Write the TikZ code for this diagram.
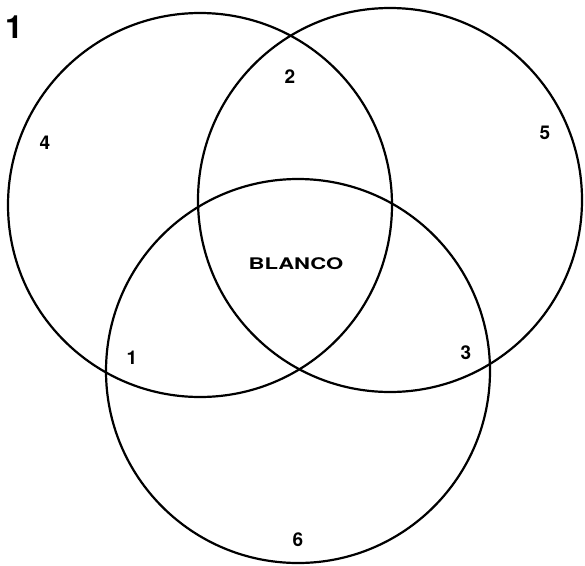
\documentclass[tikz,border=0pt]{standalone}
\usepackage{fontspec}
\setmainfont{TeX Gyre Heros}
\usepackage{graphicx}
\usepackage{tikz}
\usetikzlibrary{positioning}

\begin{document}
\begin{tikzpicture}[
      x=1pt, y=-1pt,
      every node/.style={font=\fontsize{19}{21}\selectfont\bfseries},
      ring/.style={draw, circle, line width=2.2pt, minimum size=384pt, inner sep=0pt},
      region/.style={inner sep=0pt},
  ]
    \useasboundingbox (0,0) rectangle (585,565);

    \node[ring] (setl) at (200,205) {};
    \node[ring] (setr) at (390,200) {};
    \node[ring] (setb) at (298,371) {};

    \node[region, font=\fontsize{32}{34}\selectfont\bfseries] (fig) at (14,27) {1};

    \node[region] (rfour) at (45,143) {4};
    \node[region] (rtwo) at (290,77) {2};
    \node[region] (rfive) at (545,133) {5};
    \node[region, font=\fontsize{16}{18}\selectfont\bfseries] (blank) at (296,264) {\scalebox{1.38}[1]{BLANCO}};
    \node[region] (rone) at (132,358) {1};
    \node[region] (rthree) at (466,353) {3};
    \node[region] (rsix) at (298,540) {6};
  \end{tikzpicture}
\end{document}
